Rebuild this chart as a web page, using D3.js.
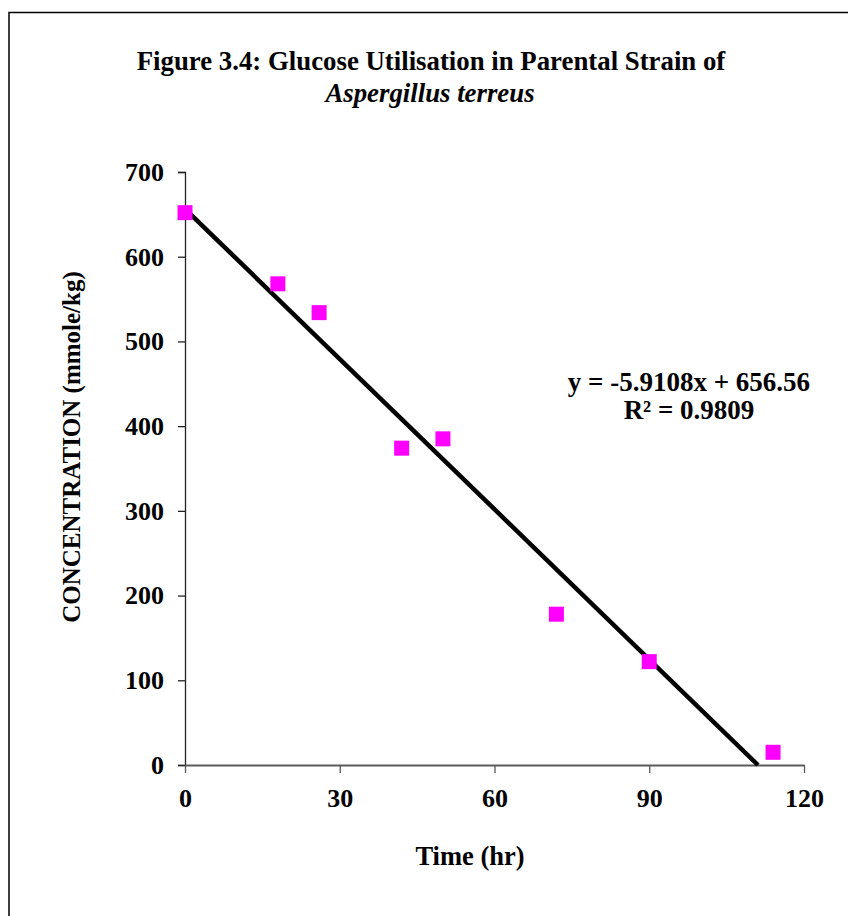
<!DOCTYPE html>
<html>
<head>
<meta charset="utf-8">
<script src="https://cdn.jsdelivr.net/npm/d3@7"></script>
<style>
  body { margin: 0; background: #fff; }
  text { font-family: "Liberation Serif", "Times New Roman", serif; font-weight: bold; fill: #000; }
</style>
</head>
<body>
<div id="chart"></div>
<script>
// Data
let hours = [0, 18, 26, 42, 50, 72, 90, 114];
let glucose = [652, 568, 534, 374, 385, 178, 122, 15];
let xTicks = [0, 30, 60, 90, 120];
let yTicks = [0, 100, 200, 300, 400, 500, 600, 700];
let slope = -5.9108;
let intercept = 656.56;

let width = 848, height = 916;
let margin = { top: 172, left: 185, right: 44, bottom: 151 };
let chartWidth = width - margin.left - margin.right;
let chartHeight = height - margin.top - margin.bottom;

let svg = d3.select("#chart").append("svg")
  .attr("width", width)
  .attr("height", height);

// outer frame (cut off at right and bottom)
svg.append("rect")
  .attr("x", 9).attr("y", 12.5)
  .attr("width", 900).attr("height", 1000)
  .attr("fill", "none").attr("stroke", "#000").attr("stroke-width", 1.5);

let x = d3.scaleLinear().domain([0, 120]).range([0, chartWidth]);
let y = d3.scaleLinear().domain([0, 700]).range([chartHeight, 0]);

let chart = svg.append("g")
  .attr("transform", "translate(" + margin.left + "," + margin.top + ")");

// axes
let yAxis = chart.append("g")
  .call(d3.axisLeft(y).tickValues(yTicks).tickSize(7).tickSizeOuter(7).tickPadding(14));
yAxis.select(".domain").attr("stroke", "#222").attr("stroke-width", 1.3);
yAxis.selectAll(".tick line").attr("stroke", "#222").attr("stroke-width", 1.3);
yAxis.selectAll(".tick text")
  .attr("font-size", 26).attr("font-family", "Liberation Serif").attr("font-weight", "bold").attr("fill", "#000");

let xAxis = chart.append("g")
  .attr("transform", "translate(0," + chartHeight + ")")
  .call(d3.axisBottom(x).tickValues(xTicks).tickSize(8).tickSizeOuter(0).tickPadding(16));
xAxis.select(".domain").attr("stroke", "#5a5a5a").attr("stroke-width", 2);
xAxis.selectAll(".tick line").attr("stroke", "#5a5a5a").attr("stroke-width", 1.3);
xAxis.selectAll(".tick text")
  .attr("font-size", 26).attr("font-family", "Liberation Serif").attr("font-weight", "bold").attr("fill", "#000");

// linear trendline
let xEnd = -intercept / slope;
chart.append("line")
  .attr("x1", x(0)).attr("y1", y(intercept))
  .attr("x2", x(xEnd)).attr("y2", y(0))
  .attr("stroke", "#000").attr("stroke-width", 4.5);

// data markers
let size = 15;
chart.selectAll(".pt")
  .data(hours)
  .enter().append("rect")
  .attr("class", "pt")
  .attr("x", d => x(d) - size / 2)
  .attr("y", (d, i) => y(glucose[i]) - size / 2)
  .attr("width", size).attr("height", size)
  .attr("fill", "#ff00ff");

// titles
svg.append("text")
  .attr("x", 431).attr("y", 70)
  .attr("text-anchor", "middle").attr("font-size", 26.8)
  .text("Figure 3.4: Glucose Utilisation in Parental Strain of");
svg.append("text")
  .attr("x", 430).attr("y", 102)
  .attr("text-anchor", "middle").attr("font-size", 26.8)
  .attr("font-style", "italic")
  .text("Aspergillus terreus");

// equation
svg.append("text")
  .attr("x", 689).attr("y", 391)
  .attr("text-anchor", "middle").attr("font-size", 27)
  .text("y = -5.9108x + 656.56");
svg.append("text")
  .attr("x", 689).attr("y", 419)
  .attr("text-anchor", "middle").attr("font-size", 27)
  .text("R² = 0.9809");

// axis titles
svg.append("text")
  .attr("x", 470).attr("y", 865)
  .attr("text-anchor", "middle").attr("font-size", 26.5)
  .text("Time (hr)");
svg.append("text")
  .attr("transform", "translate(80,447) rotate(-90)")
  .attr("text-anchor", "middle").attr("font-size", 25)
  .text("CONCENTRATION (mmole/kg)");
</script>
</body>
</html>
